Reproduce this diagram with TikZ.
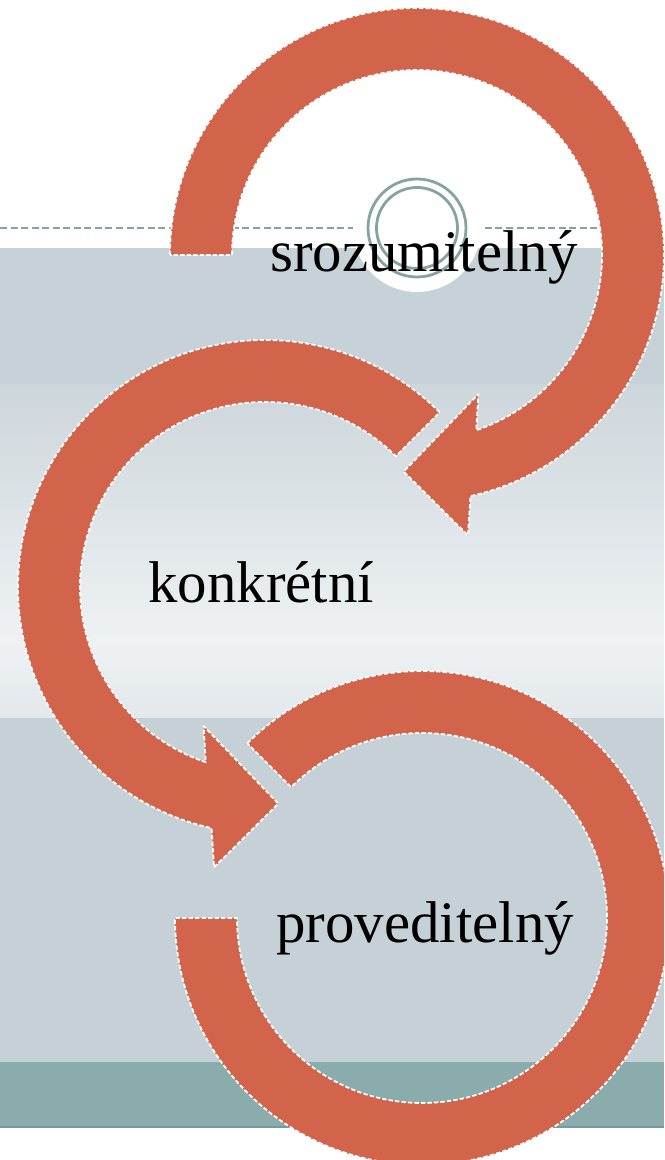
\documentclass[tikz,border=0pt]{standalone}
\usepackage{fontspec}
\setmainfont{Liberation Serif}
\usetikzlibrary{arrows}

\definecolor{arrowred}{RGB}{209,100,74}
\definecolor{bandgray}{RGB}{199,210,216}
\definecolor{bandtop}{RGB}{205,214,219}
\definecolor{bandlight}{RGB}{238,242,244}
\definecolor{bandlow}{RGB}{226,232,235}
\definecolor{bandlower}{RGB}{198,209,215}
\definecolor{tealband}{RGB}{138,172,173}
\definecolor{tealdark}{RGB}{122,153,155}
\definecolor{ringgray}{RGB}{134,163,163}

\begin{document}
\begin{tikzpicture}[x=0.02cm,y=0.02cm,
        ring arrow/.style={fill=arrowred,draw=white,line width=1pt,dash pattern=on 2.5pt off 1.2pt,line join=round},
        word/.style={anchor=base west,inner sep=0pt,font=\fontsize{33.5}{40}\selectfont}]
        \useasboundingbox (0,0) rectangle (664,1160);
        \clip (0,0) rectangle (664,1160);

        \fill[bandgray] (0,775) rectangle (664,912);
        \shade[top color=bandtop,bottom color=bandlight] (0,519) rectangle (664,775);
        \shade[top color=bandlight,bottom color=bandlow] (0,442) rectangle (664,520);
        \fill[bandlower] (0,98) rectangle (664,442);
        \fill[tealband] (0,33) rectangle (664,98);
        \draw[tealdark,line width=1pt] (0,33) -- (664,33);

        \draw[ringgray,line width=1.1pt,dash pattern=on 4pt off 2pt] (0,932) -- (664,932);
        \coordinate (hub) at (417,932);
        \fill[white] (hub) circle[radius=64];
        \draw[ringgray,line width=1.6pt] (hub) circle[radius=49] (hub) circle[radius=40.5];

        \begin{scope}[shift={(417,905)}]
        \filldraw[ring arrow] (180:247) arc[start angle=180,end angle=-77.5,radius=247]
            -- (-79.7:285) -- (-93.5:217) -- (-66.2:152) -- (-71.3:185)
            arc[start angle=-71.3,end angle=180,radius=185] -- cycle;
        \end{scope}
        \begin{scope}[shift={(265,573)}]
        \filldraw[ring arrow] (45:247) arc[start angle=45,end angle=257.5,radius=247]
            -- (259.7:285) -- (273.5:217) -- (246.2:152) -- (251.3:185)
            arc[start angle=251.3,end angle=45,radius=185] -- cycle;
        \end{scope}
        \begin{scope}[shift={(422,242)}]
        \filldraw[ring arrow] (135:247) arc[start angle=135,end angle=-180,radius=247]
            -- (-180:185) arc[start angle=-180,end angle=135,radius=185] -- cycle;
        \end{scope}

        \node[word] (srozumitelny) at (270,888) {srozumitelný};
        \node[word] (konkretni) at (148,557) {konkrétní};
        \node[word] (proveditelny) at (276,217) {proveditelný};
\end{tikzpicture}
\end{document}
